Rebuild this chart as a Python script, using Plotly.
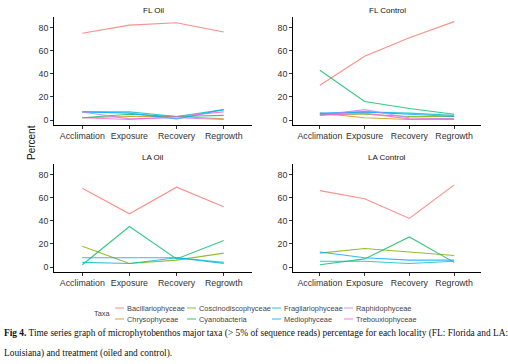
import plotly.graph_objects as go

W, H = 508, 364

stages = ["Acclimation", "Exposure", "Recovery", "Regrowth"]
taxa = ["Bacillariophyceae", "Chrysophyceae", "Coscinodiscophyceae", "Cyanobacteria",
        "Fragilariophyceae", "Mediophyceae", "Raphidophyceae", "Trebouxiophyceae"]
colors = ["#F8766D", "#CD9600", "#7CAE00", "#00BE67", "#00BFC4", "#00A9FF", "#C77CFF", "#FF61CC"]
panel_titles = ["FL Oil", "FL Control", "LA Oil", "LA Control"]
y_ticks = [0, 20, 40, 60, 80]

# values per taxon (same order as taxa); None = taxon absent in panel
fl_oil = [
    [75, 82, 84, 76],
    [2, 3, 3, 1],
    None,
    [2, 5, 3, 4],
    [7, 7, 3, 9],
    [7, 6, 1, 9],
    [7, 1, 2, 0.5],
    [2, 0.5, 3, 7],
]
fl_control = [
    [30, 55, 71, 85],
    [6, 2, 0.5, 1],
    [5, 5, 3, 3],
    [43, 16, 10, 5],
    [5, 7, 6, 4],
    [6, 7, 5, 3],
    [4, 9, 2, 1],
    [4, 6, 1, 0.5],
]
la_oil = [
    [68, 46, 69, 52],
    None,
    [18, 3, 6, 12],
    [2, 35, 7, 23],
    [4, 3, 8, 4],
    [8, 8, 8, 3],
    None,
    None,
]
la_control = [
    [66, 59, 42, 71],
    None,
    [12, 16, 13, 10],
    [2, 7, 26, 4],
    [5, 5, 3, 5],
    [13, 8, 6, 6],
    None,
    None,
]
panels = [fl_oil, fl_control, la_oil, la_control]

def px(x):
    return x / W

def py(y):
    return 1 - y / H

# panel boxes in pixels: (x0, x1, ytop, ybottom)
boxes = [(54, 252, 17, 125), (293, 481, 17, 125), (54, 252, 164, 272), (293, 481, 164, 272)]

fig = go.Figure()
axis_font = dict(family="Liberation Sans, Arial, sans-serif", size=8.8, color="#333333")

for i, (vals, box) in enumerate(zip(panels, boxes)):
    n = i + 1
    xa = "x" if n == 1 else f"x{n}"
    ya = "y" if n == 1 else f"y{n}"
    for t, c, v in zip(taxa, colors, vals):
        if v is None:
            continue
        fig.add_trace(go.Scatter(x=stages, y=v, mode="lines", name=t,
                                 line=dict(color=c, width=1.1), opacity=0.8,
                                 showlegend=False, xaxis=xa, yaxis=ya))
    x0, x1, yt, yb = box
    fig.layout[f"xaxis{'' if n == 1 else n}"] = dict(
        domain=[px(x0), px(x1)], anchor=ya, type="category",
        categoryorder="array", categoryarray=stages, range=[-0.6, 3.6],
        showline=True, linecolor="black", linewidth=0.8, ticks="outside",
        ticklen=3, tickcolor="#333333", tickwidth=0.8, showgrid=False,
        zeroline=False, tickfont=axis_font, fixedrange=True)
    fig.layout[f"yaxis{'' if n == 1 else n}"] = dict(
        domain=[py(yb), py(yt)], anchor=xa, range=[-4.3, 89],
        tickvals=y_ticks, showline=True, linecolor="black", linewidth=0.8,
        ticks="outside", ticklen=3, tickcolor="#333333", tickwidth=0.8,
        showgrid=False, zeroline=False, tickfont=axis_font, fixedrange=True)

annotations = []
for title, box in zip(panel_titles, boxes):
    x0, x1, yt, yb = box
    annotations.append(dict(text=title, x=px((x0 + x1) / 2), y=py(yt - 7), xref="paper",
                            yref="paper", showarrow=False, xanchor="center", yanchor="middle",
                            font=dict(family="Liberation Sans, Arial, sans-serif", size=8, color="#111111")))

annotations.append(dict(text="Percent", x=px(32), y=py(143), xref="paper", yref="paper",
                        showarrow=False, textangle=-90, xanchor="center", yanchor="middle",
                        font=dict(family="Liberation Sans, Arial, sans-serif", size=10, color="#111111")))

# legend (manual, ggplot-style 2 rows x 4 columns)
leg_font = dict(family="Liberation Sans, Arial, sans-serif", size=7.4, color="#444444")
annotations.append(dict(text="Taxa", x=px(102), y=py(313), xref="paper", yref="paper",
                        showarrow=False, xanchor="center", yanchor="middle", font=leg_font))
col_x = [115, 187, 272, 344]
row_y = [308, 319]
shapes = []
for k, (t, c) in enumerate(zip(taxa, colors)):
    col, row = k // 2, k % 2
    kx, ky = col_x[col], row_y[row]
    shapes.append(dict(type="line", xref="paper", yref="paper", x0=px(kx), x1=px(kx + 9),
                       y0=py(ky), y1=py(ky), line=dict(color=c, width=1.5), opacity=0.55))
    annotations.append(dict(text=t, x=px(kx + 10), y=py(ky), xref="paper", yref="paper",
                            showarrow=False, xanchor="left", yanchor="middle", font=leg_font))

cap_font = dict(family="Liberation Serif, Times New Roman, serif", size=9.4, color="#111111")
annotations.append(dict(
    text="<b>Fig 4.</b> Time series graph of microphytobenthos major taxa (> 5% of sequence reads) percentage for each locality (FL: Florida and LA:",
    x=px(2), y=py(333), xref="paper", yref="paper", showarrow=False, xanchor="left",
    yanchor="middle", font=cap_font))
annotations.append(dict(
    text="Louisiana) and treatment (oiled and control).",
    x=px(2), y=py(353), xref="paper", yref="paper", showarrow=False, xanchor="left",
    yanchor="middle", font=cap_font))

fig.update_layout(width=W, height=H, margin=dict(l=0, r=0, t=0, b=0),
                  paper_bgcolor="white", plot_bgcolor="white",
                  annotations=annotations, shapes=shapes, showlegend=False)

fig.write_html("out.html", config={"displayModeBar": False},
               post_script="document.body.style.margin='0';document.body.style.overflow='hidden';")
